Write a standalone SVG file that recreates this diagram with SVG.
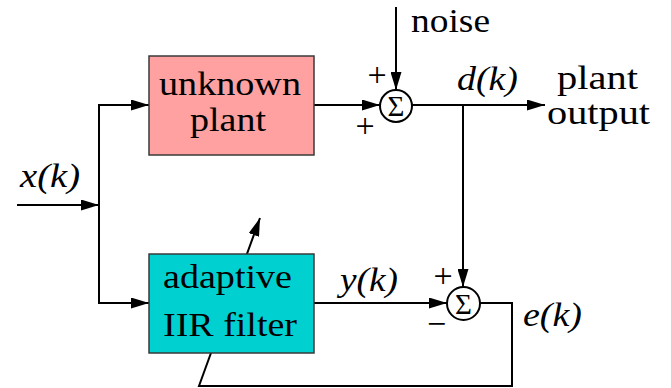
<svg xmlns="http://www.w3.org/2000/svg" width="671" height="388" viewBox="0 0 671 388">
<defs>
<style>
.ln{fill:none;stroke:#000;stroke-width:2}
.box{stroke:#3a3a3a;stroke-width:1.5}
.t{font-family:"Liberation Serif","Times New Roman",serif;font-size:33px;fill:#000}
.i{font-style:italic}
.s{font-family:"Liberation Serif","Times New Roman",serif;font-size:34px;fill:#000;text-anchor:middle}
.g{font-family:"Liberation Serif","Times New Roman",serif;font-size:29px;fill:#000;text-anchor:middle}
.sum{fill:#fff;stroke:#000;stroke-width:2}
</style>
<marker id="ah" markerWidth="18" markerHeight="11" refX="18" refY="5.5" orient="auto" markerUnits="userSpaceOnUse">
<path d="M0,0 L18,5.5 L0,11 z" fill="#000"/>
</marker>
</defs>
<rect width="671" height="388" fill="#fff"/>
<g id="connectors">
<line class="ln" x1="17" y1="205" x2="99" y2="205" marker-end="url(#ah)"/>
<line class="ln" x1="99" y1="104" x2="99" y2="304"/>
<line class="ln" x1="98" y1="105" x2="149" y2="105" marker-end="url(#ah)"/>
<line class="ln" x1="98" y1="303" x2="149" y2="303" marker-end="url(#ah)"/>
<line class="ln" x1="314" y1="105" x2="380" y2="105" marker-end="url(#ah)"/>
<line class="ln" x1="396" y1="7" x2="396" y2="90" marker-end="url(#ah)"/>
<line class="ln" x1="412" y1="105" x2="545" y2="105" marker-end="url(#ah)"/>
<line class="ln" x1="463" y1="105" x2="463" y2="287" marker-end="url(#ah)"/>
<line class="ln" x1="314" y1="303" x2="447" y2="303" marker-end="url(#ah)"/>
<polyline class="ln" points="480,303 512,303 512,386 199,386 260,218" marker-end="url(#ah)"/>
</g>
<g id="unknown-plant">
<rect class="box" x="149" y="56" width="165" height="99" fill="#ffa1a1"/>
<text class="t" x="159" y="95" textLength="142" lengthAdjust="spacingAndGlyphs">unknown</text>
<text class="t" x="190" y="131" textLength="76" lengthAdjust="spacingAndGlyphs">plant</text>
</g>
<g id="adaptive-filter">
<rect class="box" x="149" y="254" width="165" height="99" fill="#00d0d0"/>
<text class="t" x="163" y="288" textLength="129" lengthAdjust="spacingAndGlyphs">adaptive</text>
<text class="t" x="163" y="336" textLength="134" lengthAdjust="spacingAndGlyphs">IIR filter</text>
</g>
<g id="sum1">
<circle class="sum" cx="396" cy="106" r="16"/>
<text class="g" x="396" y="116">Σ</text>
<text class="s" x="377" y="86">+</text>
<text class="s" x="365" y="137">+</text>
</g>
<g id="sum2">
<circle class="sum" cx="463.5" cy="303.5" r="16.5"/>
<text class="g" x="463.5" y="313.5">Σ</text>
<text class="s" x="443" y="287">+</text>
<text class="s" x="436.5" y="335">−</text>
</g>
<g id="labels">
<text class="t" x="411" y="32" textLength="79" lengthAdjust="spacingAndGlyphs">noise</text>
<text class="t i" x="457" y="90" textLength="61" lengthAdjust="spacingAndGlyphs">d(k)</text>
<text class="t" x="557" y="89" textLength="81" lengthAdjust="spacingAndGlyphs" font-size="32">plant</text>
<text class="t" x="547" y="124" textLength="103" lengthAdjust="spacingAndGlyphs" font-size="32">output</text>
<text class="t i" x="20" y="187" textLength="60" lengthAdjust="spacingAndGlyphs">x(k)</text>
<text class="t i" x="340" y="291" textLength="58" lengthAdjust="spacingAndGlyphs">y(k)</text>
<text class="t i" x="523" y="326" textLength="59" lengthAdjust="spacingAndGlyphs">e(k)</text>
</g>
</svg>
